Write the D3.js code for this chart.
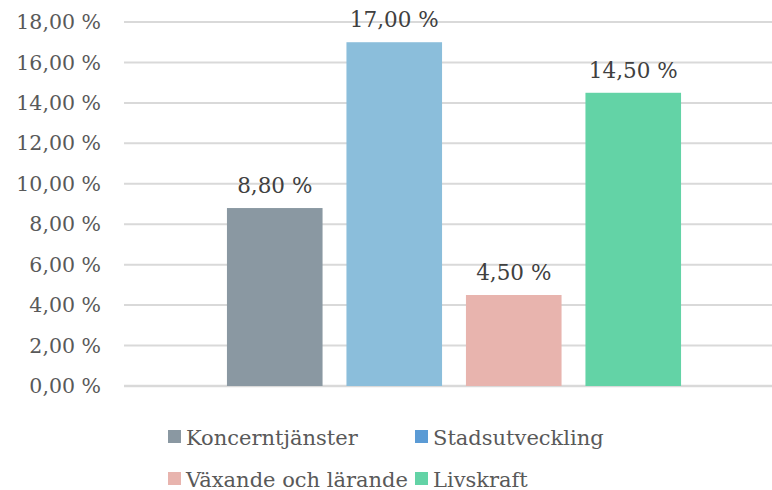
<!DOCTYPE html>
<html>
<head>
<meta charset="utf-8">
<script src="https://cdn.jsdelivr.net/npm/d3@7"></script>
<style>
  body { margin: 0; background: #fff; }
  text { font-family: Georgia, "DejaVu Serif", serif; }
</style>
</head>
<body>
<div id="chart"></div>
<script>
const categories = ["Koncerntjänster", "Stadsutveckling", "Växande och lärande", "Livskraft"]
const values = [8.8, 17.0, 4.5, 14.5]
const barColors = ["#8a98a2", "#8bbedb", "#e8b4ae", "#63d3a6"]
const legendColors = ["#8a98a2", "#5b9bd5", "#e8b4ae", "#63d3a6"]
const yTicks = [0, 2, 4, 6, 8, 10, 12, 14, 16, 18]

var width = 772, height = 490;
var fmt = function(v){ return v.toFixed(2).replace(".", ",") + " %"; };

var svg = d3.select("#chart").append("svg")
	.attr("width", width)
	.attr("height", height);

var y = d3.scaleLinear()
	.domain([0, 18])
	.range([386, 22]);

var x = d3.scaleBand()
	.domain(categories)
	.range([215, 693])
	.paddingInner(0.2)
	.paddingOuter(0.1);

// grid
svg.append("g")
	.selectAll("line")
	.data(yTicks)
	.join("line")
	.attr("x1", 124)
	.attr("x2", 772)
	.attr("y1", function(d){ return y(d); })
	.attr("y2", function(d){ return y(d); })
	.attr("stroke", "#d9d9d9")
	.attr("stroke-width", function(d){ return d == 0 ? 2.5 : 2; });

// y labels
var yAxis = svg.append("g")
	.attr("transform", "translate(101,0)")
	.call(d3.axisLeft(y).tickValues(yTicks).tickFormat(fmt).tickSize(0).tickPadding(0));
yAxis.select(".domain").remove();
yAxis.selectAll("text")
	.attr("fill", "#595959")
	.style("font-size", "20.5px")
	.style("font-family", "Georgia, 'DejaVu Serif', serif");

// bars
svg.append("g")
	.selectAll("rect")
	.data(values)
	.join("rect")
	.attr("x", function(d, i){ return x(categories[i]); })
	.attr("y", function(d){ return y(d); })
	.attr("width", x.bandwidth())
	.attr("height", function(d){ return y(0) - y(d); })
	.attr("fill", function(d, i){ return barColors[i]; });

// value labels
svg.append("g")
	.selectAll("text")
	.data(values)
	.join("text")
	.attr("x", function(d, i){ return x(categories[i]) + x.bandwidth() / 2; })
	.attr("y", function(d){ return y(d) - 15; })
	.attr("text-anchor", "middle")
	.attr("fill", "#404040")
	.style("font-size", "21.5px")
	.text(fmt);

// legend
var legendPos = [[168, 437], [415, 437], [168, 479], [415, 479]];
var lg = svg.append("g")
	.selectAll("g")
	.data(categories)
	.join("g")
	.attr("transform", function(d, i){ return "translate(" + legendPos[i][0] + "," + legendPos[i][1] + ")"; });
lg.append("rect")
	.attr("x", 0)
	.attr("y", -7)
	.attr("width", 13)
	.attr("height", 13)
	.attr("fill", function(d, i){ return legendColors[i]; });
lg.append("text")
	.attr("x", 18)
	.attr("y", 7.5)
	.attr("fill", "#595959")
	.style("font-size", "21px")
	.text(function(d){ return d; });
</script>
</body>
</html>
